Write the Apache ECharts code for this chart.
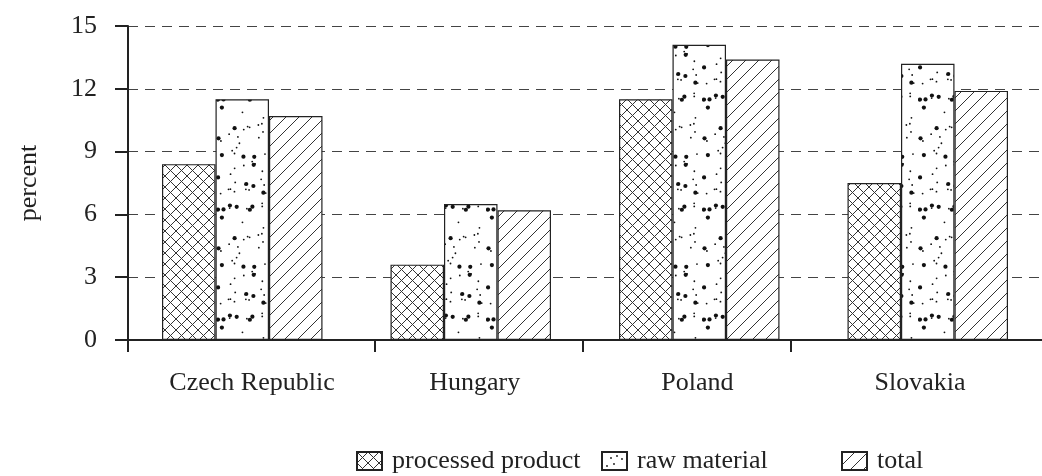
<!DOCTYPE html>
<html>
<head>
<meta charset="utf-8">
<script src="https://cdn.jsdelivr.net/npm/echarts@6/dist/echarts.min.js"></script>
<style>
  html, body { margin: 0; padding: 0; background: #fff; }
  #chart { width: 1042px; height: 476px; }
</style>
</head>
<body>
<div id="chart"></div>
<script>
var categories = ['Czech Republic', 'Hungary', 'Poland', 'Slovakia'];
var processedProduct = [8.4, 3.6, 11.5, 7.5];
var rawMaterial = [11.5, 6.5, 14.1, 13.2];
var total = [10.7, 6.2, 13.4, 11.9];
var seriesNames = ['processed product', 'raw material', 'total'];

var FONT = 'Liberation Serif';
var INK = '#222';

// fill textures for the bars
function makeTile(w, h, draw) {
	var c = document.createElement('canvas');
	c.width = w;
	c.height = h;
	var ctx = c.getContext('2d');
	ctx.fillStyle = '#fff';
	ctx.fillRect(0, 0, w, h);
	ctx.strokeStyle = '#333';
	ctx.fillStyle = '#111';
	ctx.lineWidth = 1;
	draw(ctx, w, h);
	return c;
}

function crossTile() {
	return makeTile(11, 11, function (ctx, w, h) {
		ctx.beginPath();
		ctx.moveTo(-1, -1); ctx.lineTo(w + 1, h + 1);
		ctx.moveTo(-1, h + 1); ctx.lineTo(w + 1, -1);
		ctx.stroke();
	});
}

function slashTile() {
	return makeTile(13, 13, function (ctx, w, h) {
		ctx.beginPath();
		ctx.moveTo(-1, h + 1); ctx.lineTo(w + 1, -1);
		ctx.moveTo(-2, 2); ctx.lineTo(2, -2);
		ctx.moveTo(w - 2, h + 2); ctx.lineTo(w + 2, h - 2);
		ctx.stroke();
	});
}

function dotTile(w, h, n, seed) {
	return makeTile(w, h, function (ctx) {
		function rnd() {
			seed = (seed * 16807) % 2147483647;
			return seed / 2147483647;
		}
		for (var i = 0; i < n; i++) {
			var x = 2 + rnd() * (w - 4);
			var y = 2 + rnd() * (h - 4);
			var r = rnd() < 0.3 ? 2.1 : 0.9;
			ctx.beginPath();
			ctx.arc(x, y, r, 0, Math.PI * 2);
			ctx.fill();
		}
	});
}

var fills = [crossTile(), dotTile(54, 110, 55, 7), slashTile()];
var legendDots = makeTile(25, 18, function (ctx) {
	[[9, 6], [15, 4], [20, 7], [12, 12], [5, 14]].forEach(function (p) {
		ctx.beginPath();
		ctx.arc(p[0], p[1], 0.9, 0, Math.PI * 2);
		ctx.fill();
	});
});
var values = [processedProduct, rawMaterial, total];

var chart = echarts.init(document.getElementById('chart'));

var series = seriesNames.map(function (name, i) {
	return {
		name: name,
		type: 'bar',
		xAxisIndex: 0,
		yAxisIndex: 0,
		barWidth: 53.5,
		barGap: '0%',
		data: values[i],
		itemStyle: {
			color: { image: fills[i], repeat: 'repeat' },
			borderColor: INK,
			borderWidth: 1.2
		}
	};
});

// one legend per entry so the columns sit where the source has them
var legendLeft = [356, 601, 841];
var legends = seriesNames.map(function (name, i) {
	var item = { name: name };
	if (i === 1) {
		item.itemStyle = { color: { image: legendDots, repeat: 'no-repeat' } };
	}
	return {
		data: [item],
		left: legendLeft[i],
		top: 448,
		padding: 0,
		itemWidth: 25,
		itemHeight: 18,
		icon: 'rect',
		selectedMode: false,
		textStyle: {
			fontFamily: FONT,
			fontSize: 26,
			color: INK,
			padding: [0, 0, 0, 5]
		}
	};
});

chart.setOption({
	animation: false,
	backgroundColor: '#fff',
	textStyle: { fontFamily: FONT, color: INK },
	grid: [
		{ left: 128, top: 26, width: 918, height: 314 },
		{ left: 140.7, top: 26, width: 890.7, height: 314 },
		{ left: 128, top: 26, width: 918, height: 314 }
	],
	legend: legends,
	xAxis: [{
		type: 'category',
		gridIndex: 0,
		data: categories,
		axisLine: { lineStyle: { color: INK, width: 2 } },
		axisTick: { show: false },
		axisLabel: { show: false }
	}, {
		// category names, spaced as in the source figure
		type: 'category',
		gridIndex: 1,
		data: categories,
		axisLine: { show: false },
		axisTick: { show: false },
		axisLabel: { margin: 30, fontFamily: FONT, fontSize: 26, color: INK }
	}, {
		// tick marks under the axis
		type: 'value',
		gridIndex: 2,
		min: 0,
		max: 918,
		axisLine: { show: false },
		splitLine: { show: false },
		axisLabel: { show: false },
		axisTick: {
			show: true,
			length: 12,
			customValues: [0, 248, 457, 666],
			lineStyle: { color: INK, width: 2 }
		}
	}],
	yAxis: [{
		type: 'value',
		gridIndex: 0,
		min: 0,
		max: 15,
		interval: 3,
		name: 'percent',
		nameLocation: 'middle',
		nameGap: 86,
		nameTextStyle: { fontFamily: FONT, fontSize: 26, color: INK },
		axisLine: { show: true, lineStyle: { color: INK, width: 2 } },
		axisTick: { show: true, inside: false, length: 13, lineStyle: { color: INK, width: 2 } },
		axisLabel: { margin: 31, fontFamily: FONT, fontSize: 26, color: INK },
		splitLine: { show: true, lineStyle: { color: '#444', type: [10, 7], width: 1 } }
	}, {
		type: 'value', gridIndex: 1, show: false
	}, {
		type: 'value', gridIndex: 2, show: false
	}],
	series: series
});
</script>
</body>
</html>
